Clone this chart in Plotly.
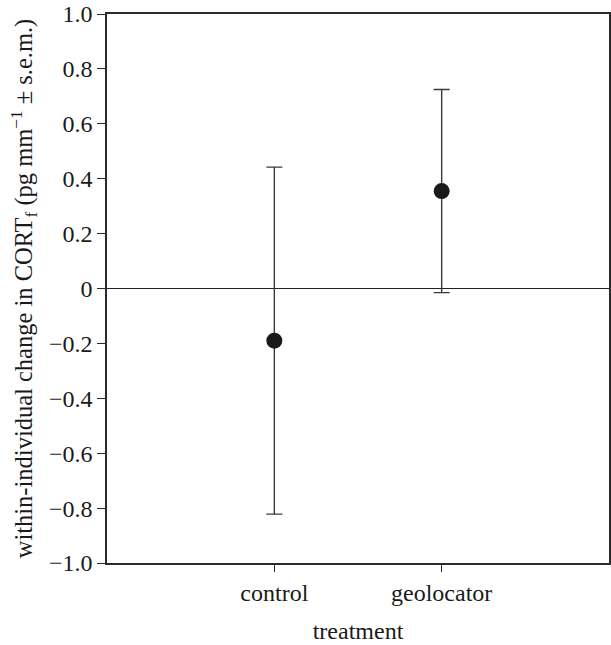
import plotly.graph_objects as go

# treatment groups and mean change in CORTf with s.e.m.
treatments = ['control', 'geolocator']
mean_change = [-0.19, 0.355]
sem = [0.632, 0.37]

SERIF = '"Liberation Serif", "Times New Roman", "DejaVu Serif", serif'
AXIS_COL = '#2b2b2b'

positions = list(range(len(treatments)))

fig = go.Figure()
fig.add_trace(go.Scatter(
    x=positions, y=mean_change,
    mode='markers',
    marker=dict(size=16, color='#1a1a1a'),
    error_y=dict(type='data', array=sem, visible=True, color='#3a3a3a', thickness=1.4, width=8),
    showlegend=False
))

fig.update_layout(
    width=611, height=645,
    margin=dict(l=107, r=2, t=14, b=82, autoexpand=False),
    paper_bgcolor='white',
    plot_bgcolor='white',
    font=dict(family=SERIF, size=24, color='#1a1a1a'),
    xaxis=dict(
        title=dict(text='treatment', font=dict(size=24), standoff=18),
        range=[-1, 2],
        tickmode='array', tickvals=positions, ticktext=treatments,
        ticks='outside', ticklen=7, tickwidth=1.4, tickcolor=AXIS_COL,
        showline=True, linecolor=AXIS_COL, linewidth=1.5, mirror=True,
        showgrid=False, zeroline=False, automargin=False,
        tickfont=dict(size=24)
    ),
    yaxis=dict(
        title=dict(text='within-individual change in CORT<sub>f</sub> (pg mm<sup>−1</sup> ± s.e.m.)',
                   font=dict(size=24.5), standoff=9),
        range=[-1, 1],
        tickmode='array',
        tickvals=[-1, -0.8, -0.6, -0.4, -0.2, 0, 0.2, 0.4, 0.6, 0.8, 1.0],
        ticktext=['−1.0', '−0.8', '−0.6', '−0.4', '−0.2', '0', '0.2', '0.4', '0.6', '0.8', '1.0'],
        ticks='outside', ticklen=8, tickwidth=1.4, tickcolor=AXIS_COL,
        ticklabeloverflow='allow', automargin=False,
        showline=True, linecolor=AXIS_COL, linewidth=1.5, mirror=True,
        showgrid=False,
        zeroline=True, zerolinecolor='#222222', zerolinewidth=1,
        tickfont=dict(size=24)
    )
)

# drop the default page margin so the figure sits at the window corner
fig.write_html("out.html", config={'displayModeBar': False},
               post_script="document.body.style.margin='0';")
